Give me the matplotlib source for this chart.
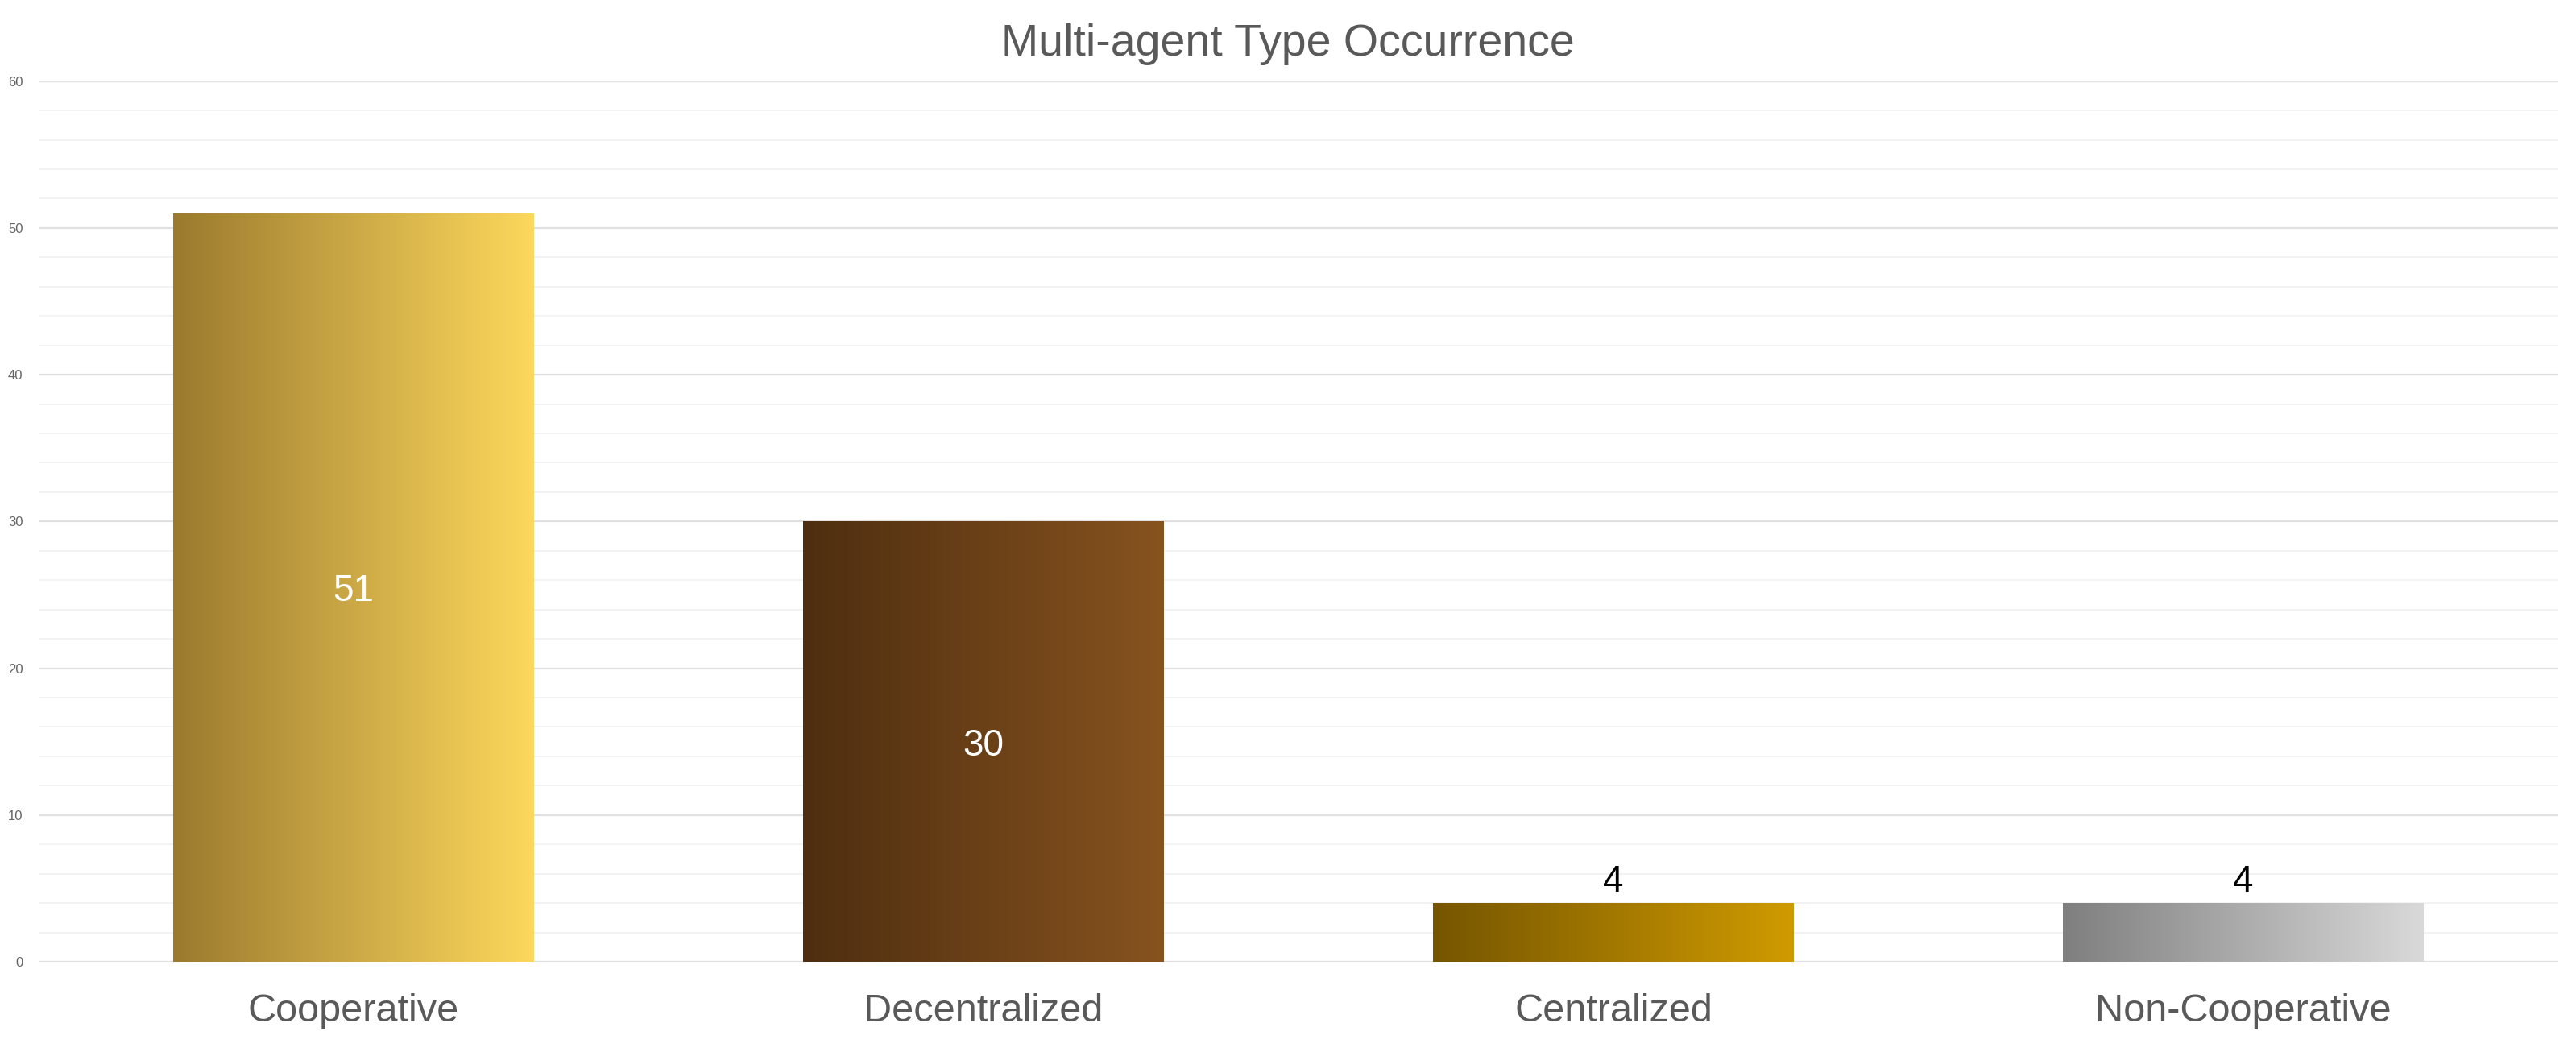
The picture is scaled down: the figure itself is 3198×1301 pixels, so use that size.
import numpy as np
import matplotlib.pyplot as plt
from matplotlib.colors import LinearSegmentedColormap

plt.rcParams['font.family'] = ['Liberation Sans', 'DejaVu Sans']

categories = ["Cooperative", "Decentralized", "Centralized", "Non-Cooperative"]
counts = [51, 30, 4, 4]
# left / right colours of each bar's horizontal gradient
gradients = [("#9b7a2f", "#fdd85c"),
             ("#4e2e10", "#87531f"),
             ("#755500", "#d09b00"),
             ("#7f7f7f", "#d9d9d9")]
label_inside = [True, True, False, False]

fig = plt.figure(figsize=(31.98, 13.01), dpi=100)
ax = fig.add_axes([0.015, 0.0822, 0.9781, 0.8404])

x = np.arange(len(categories))
bars = ax.bar(x, counts, width=0.572, color='none', zorder=3)

grad = np.linspace(0, 1, 256).reshape(1, -1)
for bar, (c0, c1) in zip(bars, gradients):
    cmap = LinearSegmentedColormap.from_list("g", [c0, c1])
    x0, w, h = bar.get_x(), bar.get_width(), bar.get_height()
    im = ax.imshow(grad, cmap=cmap, aspect='auto', extent=(x0, x0 + w, 0, h),
                   zorder=3, interpolation='bicubic')
    im.set_clip_path(bar)

for xi, v, inside in zip(x, counts, label_inside):
    if inside:
        ax.text(xi, v / 2, str(v), ha='center', va='center_baseline', fontsize=33,
                color='white', zorder=4)
    else:
        ax.text(xi, v + 1.7, str(v), ha='center', va='center_baseline', fontsize=33,
                color='black', zorder=4)

ax.set_xlim(-0.5, len(categories) - 0.5)
ax.set_ylim(0, 60)
ax.set_yticks(np.arange(0, 61, 10))
ax.set_yticks(np.arange(0, 61, 2), minor=True)
ax.set_xticks(x)
ax.set_xticklabels(categories)
ax.tick_params(axis='x', length=0, labelsize=35, labelcolor='#595959', pad=28)
ax.tick_params(axis='y', which='both', length=0, labelsize=12,
               labelcolor='#666666', pad=14)
ax.grid(axis='y', which='major', color='#e0e0e0', linewidth=1.6, zorder=0)
ax.grid(axis='y', which='minor', color='#f3f3f3', linewidth=1.4, zorder=0)
ax.set_axisbelow(True)
for s in ax.spines.values():
    s.set_visible(False)

fig.text(0.5, 0.958, "Multi-agent Type Occurrence", ha='center', va='center',
         fontsize=40, color='#595959')

fig.savefig("out.png", dpi=100)
